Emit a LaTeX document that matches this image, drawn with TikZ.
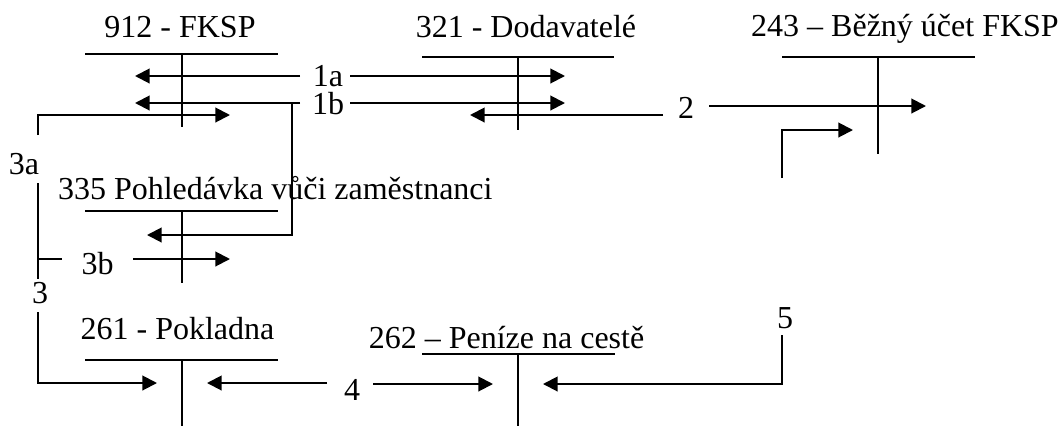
\documentclass[tikz,border=0pt]{standalone}
\usepackage{fontspec}
\setmainfont{Liberation Serif}
\usetikzlibrary{arrows.meta}
\begin{document}
\begin{tikzpicture}[x=0.75pt,y=-0.75pt,
  every node/.style={inner sep=0pt,outer sep=0pt,font=\fontsize{24}{28}\selectfont},
  acct/.style={line width=1.5pt},
  arr/.style={line width=1.5pt,-{Triangle[length=11pt,width=11pt]}},
  link/.style={line width=1.5pt}]
\useasboundingbox (0,0) rectangle (1061,426);

% T-accounts: title, top rule and middle stem
\node[anchor=base] (t912) at (180,37) {912 - FKSP};
\draw[acct] (85,54) -- (278,54) (182,54) -- (182,127);
\node[anchor=base] (t321) at (526,37) {321 - Dodavatelé};
\draw[acct] (422,57) -- (614,57) (518,57) -- (518,130);
\node[anchor=base] (t243) at (905,36) {243 – Běžný účet FKSP};
\draw[acct] (782,57) -- (975,57) (878,57) -- (878,154);
\node[anchor=base west] (t335) at (58,199) {335 Pohledávka vůči zaměstnanci};
\draw[acct] (85,211) -- (278,211) (182,211) -- (182,283);
\node[anchor=base] (t261) at (177.5,339) {261 - Pokladna};
\draw[acct] (85,360) -- (278,360) (182,360) -- (182,426);
\node[anchor=base] (t262) at (506.5,348) {262 – Peníze na cestě};
\draw[acct] (422,354) -- (615,354) (518,354) -- (518,426);

% entry labels
\node[anchor=base] (l1a) at (328,86) {1a};
\node[anchor=base] (l1b) at (328,114) {1b};
\node[anchor=base] (l2) at (686,118) {2};
\node[anchor=base] (l3a) at (24,174) {3a};
\node[anchor=base] (l3b) at (97.5,274) {3b};
\node[anchor=base] (l3) at (40,303) {3};
\node[anchor=base] (l4) at (352,400) {4};
\node[anchor=base] (l5) at (785,328) {5};

% connector end points
\coordinate (a1aL) at (300,76);  \coordinate (a1aLt) at (135,76);
\coordinate (a1aR) at (350,76);  \coordinate (a1aRt) at (565,76);
\coordinate (a1bL) at (300,103); \coordinate (a1bLt) at (135,103);
\coordinate (a1bR) at (350,103); \coordinate (a1bRt) at (565,103);
\coordinate (a1bD) at (292,103); \coordinate (a1bDc) at (292,235);
\coordinate (a1bDt) at (147,235);
\coordinate (a2L) at (663,115);  \coordinate (a2Lt) at (470,115);
\coordinate (a2R) at (709,106);  \coordinate (a2Rt) at (926,106);
\coordinate (aLs) at (782,178);  \coordinate (aLc) at (782,130);
\coordinate (aLt) at (853,130);
\coordinate (a3as) at (38,135);  \coordinate (a3ac) at (38,115);
\coordinate (a3at) at (230,115);
\coordinate (v3top) at (38,183); \coordinate (v3bot) at (38,279);
\coordinate (a3bj) at (38,259);  \coordinate (a3bk) at (62,259);
\coordinate (a3bs) at (133,259); \coordinate (a3bt) at (230,259);
\coordinate (a3s) at (38,312);   \coordinate (a3c) at (38,383);
\coordinate (a3t) at (157,383);
\coordinate (a4L) at (327,383);  \coordinate (a4Lt) at (207,383);
\coordinate (a4R) at (373,384);  \coordinate (a4Rt) at (493,384);
\coordinate (a5s) at (782,335);  \coordinate (a5c) at (782,384);
\coordinate (a5t) at (543,384);

% connectors
\draw[arr] (a1aL) -- (a1aLt);
\draw[arr] (a1aR) -- (a1aRt);
\draw[arr] (a1bL) -- (a1bLt);
\draw[arr] (a1bR) -- (a1bRt);
\draw[arr] (a1bD) -- (a1bDc) -- (a1bDt);
\draw[arr] (a2L) -- (a2Lt);
\draw[arr] (a2R) -- (a2Rt);
\draw[arr] (aLs) -- (aLc) -- (aLt);
\draw[arr] (a3as) -- (a3ac) -- (a3at);
\draw[link] (v3top) -- (v3bot);
\draw[link] (a3bj) -- (a3bk);
\draw[arr] (a3bs) -- (a3bt);
\draw[arr] (a3s) -- (a3c) -- (a3t);
\draw[arr] (a4L) -- (a4Lt);
\draw[arr] (a4R) -- (a4Rt);
\draw[arr] (a5s) -- (a5c) -- (a5t);
\end{tikzpicture}
\end{document}
